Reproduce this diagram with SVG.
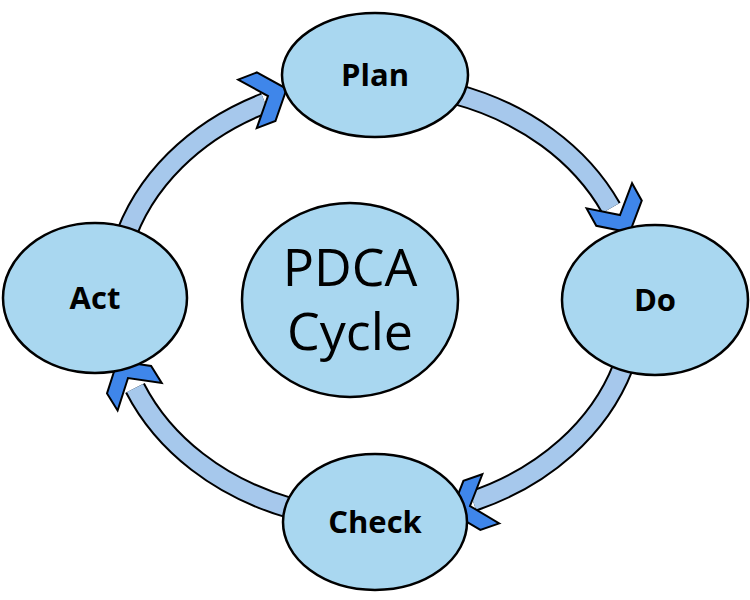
<svg xmlns="http://www.w3.org/2000/svg" width="750" height="600" viewBox="0 0 750 600">
<style>
.bo{fill:none;stroke:#000;stroke-width:22}
.bi{fill:none;stroke:#a6c8ec;stroke-width:18}
.hd{fill:#3f86ea;stroke:#000;stroke-width:2;stroke-linejoin:miter}
.nd{fill:#a9d7f0;stroke:#000;stroke-width:2.5}
.t{font-family:"Open Sans","DejaVu Sans",sans-serif;font-weight:bold;font-size:31px;text-anchor:middle}
.c{font-family:"Open Sans","DejaVu Sans",sans-serif;font-size:52px;text-anchor:middle}
</style>
<defs>
<polygon id="chev" class="hd" points="-22,-26 -2,-26 20,0 -2,26 -22,26 0,0"/>
</defs>
<rect width="750" height="600" fill="#fff"/>
<g id="connectors">
<path class="bo" d="M455,94 A261,216.8 0 0 1 611,208"/>
<path class="bi" d="M455,94 A261,216.8 0 0 1 611,208"/>
<path class="bo" d="M623,367 A261,216.8 0 0 1 473,501"/>
<path class="bi" d="M623,367 A261,216.8 0 0 1 473,501"/>
<path class="bo" d="M290,508 A261,216.8 0 0 1 135,388"/>
<path class="bi" d="M290,508 A261,216.8 0 0 1 135,388"/>
<path class="bo" d="M123,244 A261,216.8 0 0 1 265,103"/>
<path class="bi" d="M123,244 A261,216.8 0 0 1 265,103"/>
<use href="#chev" transform="translate(620,215) rotate(61)"/>
<use href="#chev" transform="translate(470,506) rotate(161)"/>
<use href="#chev" transform="translate(128,378) rotate(-122)"/>
<use href="#chev" transform="translate(268,96) rotate(-21)"/>
</g>
<g id="plan"><ellipse class="nd" cx="375" cy="75" rx="93" ry="62"/><text class="t" x="375" y="86">Plan</text></g>
<g id="do"><ellipse class="nd" cx="655" cy="300" rx="93" ry="75"/><text class="t" x="655" y="311">Do</text></g>
<g id="check"><ellipse class="nd" cx="375" cy="522" rx="92" ry="68"/><text class="t" x="375" y="533">Check</text></g>
<g id="act"><ellipse class="nd" cx="95" cy="298" rx="92" ry="75"/><text class="t" x="95" y="309">Act</text></g>
<g id="center"><ellipse class="nd" cx="350" cy="300" rx="108" ry="97"/><text class="c" x="350" y="286">PDCA</text><text class="c" x="350" y="350">Cycle</text></g>
</svg>
